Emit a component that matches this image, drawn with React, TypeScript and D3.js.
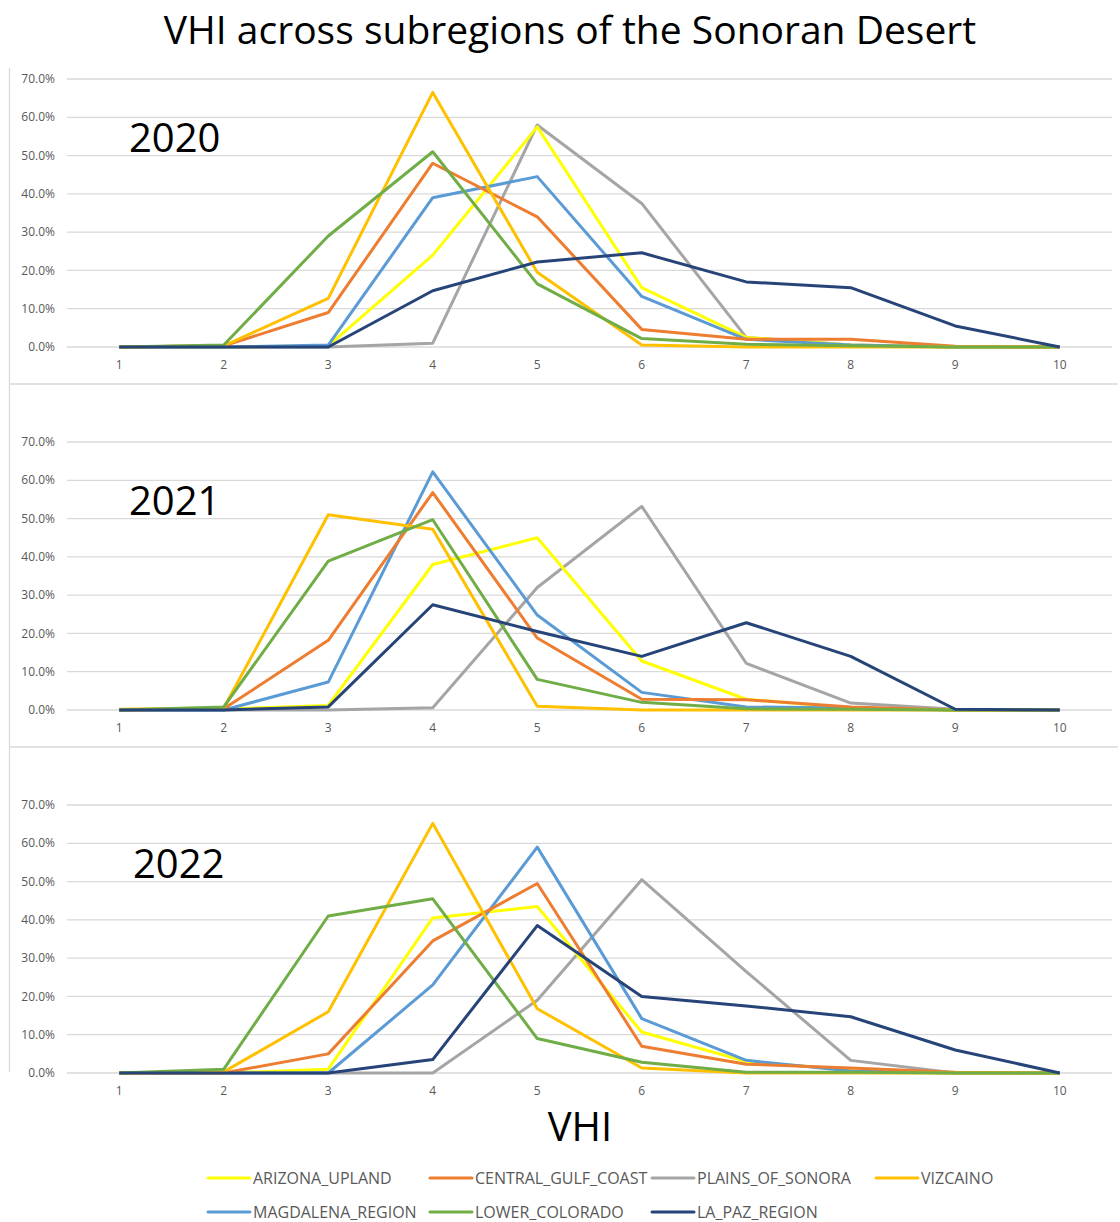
import React from "react";
import * as d3 from "d3";

const categories = [1, 2, 3, 4, 5, 6, 7, 8, 9, 10];
const yTicks = [0, 10, 20, 30, 40, 50, 60, 70];
const years = ["2020", "2021", "2022"];
const seriesNames = [
  "ARIZONA_UPLAND",
  "CENTRAL_GULF_COAST",
  "PLAINS_OF_SONORA",
  "VIZCAINO",
  "MAGDALENA_REGION",
  "LOWER_COLORADO",
  "LA_PAZ_REGION",
];
const seriesColors = ["#FFFF00", "#ED7D31", "#A5A5A5", "#FFC000", "#5B9BD5", "#70AD47", "#264478"];

// 2020 values (%)
const arizona2020 = [0, 0, 0.3, 24, 57.5, 15.5, 2.5, 0.5, 0, 0];
const gulf2020 = [0, 0.3, 9, 48, 34, 4.6, 2, 2, 0.2, 0];
const plains2020 = [0, 0, 0, 1, 58, 37.5, 2.5, 0.5, 0, 0];
const vizcaino2020 = [0, 0.3, 12.7, 66.5, 19.5, 0.5, 0, 0, 0, 0];
const magdalena2020 = [0, 0, 0.5, 39, 44.5, 13.2, 2, 0.5, 0, 0];
const colorado2020 = [0, 0.5, 29, 51, 16.5, 2.2, 0.7, 0.3, 0, 0];
const lapaz2020 = [0, 0, 0, 14.7, 22.2, 24.6, 17, 15.5, 5.5, 0];

// 2021 values (%)
const arizona2021 = [0, 0.2, 1.2, 38, 45, 12.8, 2.8, 0.5, 0, 0];
const gulf2021 = [0, 0.3, 18.2, 56.8, 18.8, 2.8, 2.7, 0.8, 0, 0];
const plains2021 = [0, 0, 0, 0.6, 32, 53.2, 12.2, 1.8, 0.2, 0];
const vizcaino2021 = [0.2, 0.5, 51, 47.2, 1, 0, 0, 0, 0, 0];
const magdalena2021 = [0, 0, 7.3, 62.2, 24.8, 4.6, 0.8, 0.5, 0, 0];
const colorado2021 = [0, 0.8, 38.9, 49.7, 8, 2, 0.3, 0.2, 0, 0];
const lapaz2021 = [0, 0, 0.8, 27.5, 20.5, 14, 22.8, 14, 0.2, 0];

// 2022 values (%)
const arizona2022 = [0, 0, 1, 40.5, 43.5, 10.7, 3, 0.8, 0, 0];
const gulf2022 = [0, 0, 5, 34.5, 49.5, 7, 2.3, 1.3, 0.2, 0];
const plains2022 = [0, 0, 0, 0, 19, 50.5, 26.5, 3.3, 0, 0];
const vizcaino2022 = [0, 0.3, 16, 65.2, 16.8, 1.3, 0, 0, 0, 0];
const magdalena2022 = [0, 0, 0, 23, 59, 14.2, 3.3, 0.5, 0, 0];
const colorado2022 = [0, 1, 41, 45.5, 9, 2.8, 0.2, 0.2, 0, 0];
const lapaz2022 = [0, 0, 0, 3.5, 38.5, 20, 17.5, 14.7, 6, 0];

const panelData = [
  [arizona2020, gulf2020, plains2020, vizcaino2020, magdalena2020, colorado2020, lapaz2020],
  [arizona2021, gulf2021, plains2021, vizcaino2021, magdalena2021, colorado2021, lapaz2021],
  [arizona2022, gulf2022, plains2022, vizcaino2022, magdalena2022, colorado2022, lapaz2022],
];

const W = 1120;
const H = 1222;
const FONT = "'Open Sans', 'Noto Sans', sans-serif";
const plotLeft = 67;
const plotRight = 1112;
const panelTops = [79, 442, 805]; // y of 70% gridline
const plotH = 268;
const yearX = [129, 129, 133];
const drawOrder = [2, 0, 4, 1, 3, 5, 6];

function Panel({ idx }: { idx: number }) {
  const top = panelTops[idx];
  const x = d3
    .scalePoint<number>()
    .domain(categories)
    .range([plotLeft, plotRight])
    .padding(0.5);
  const y = d3.scaleLinear().domain([0, 70]).range([top + plotH, top]);
  const line = d3
    .line<number>()
    .x((_, i) => x(categories[i]) as number)
    .y((d) => y(d));
  const data = panelData[idx];
  return (
    <g>
      {yTicks.map((t) => (
        <g key={t}>
          <line x1={plotLeft} x2={plotRight} y1={y(t)} y2={y(t)} stroke="#D9D9D9" strokeWidth={1.3} />
          <text
            x={55}
            y={y(t)}
            dy="0.35em"
            textAnchor="end"
            fontSize={12}
            fill="#595959"
            fontFamily={FONT}
          >
            {d3.format(".1f")(t) + "%"}
          </text>
        </g>
      ))}
      {categories.map((c) => (
        <text
          key={c}
          x={x(c)}
          y={top + plotH + 18}
          dy="0.35em"
          textAnchor="middle"
          fontSize={12}
          fill="#595959"
          fontFamily={FONT}
        >
          {c}
        </text>
      ))}
      {drawOrder.map((si) => (
        <path
          key={si}
          d={line(data[si]) || ""}
          fill="none"
          stroke={seriesColors[si]}
          strokeWidth={3}
          strokeLinejoin="round"
        />
      ))}
      <text x={yearX[idx]} y={top + 73} fontSize={40} fill="#000" fontFamily={FONT}>
        {years[idx]}
      </text>
    </g>
  );
}

export default function App() {
  const legendCols = [208, 430, 652, 876];
  const legendRows = [1178, 1212];
  return (
    <svg
      width={W}
      height={H}
      viewBox={`0 0 ${W} ${H}`}
      style={{ position: "absolute", left: 0, top: 0, background: "#fff" }}
    >
      <rect x={0} y={0} width={W} height={H} fill="#fff" />
      <text x={570} y={44} textAnchor="middle" fontSize={39} fill="#000" fontFamily={FONT}>
        VHI across subregions of the Sonoran Desert
      </text>
      <line x1={9.5} x2={9.5} y1={68} y2={1072} stroke="#D9D9D9" strokeWidth={1.3} />
      <line x1={9} x2={1118} y1={384} y2={384} stroke="#D9D9D9" strokeWidth={1.3} />
      <line x1={9} x2={1118} y1={747} y2={747} stroke="#D9D9D9" strokeWidth={1.3} />
      {years.map((_, i) => (
        <Panel key={i} idx={i} />
      ))}
      <text x={580} y={1141} textAnchor="middle" fontSize={40} fill="#000" fontFamily={FONT}>
        VHI
      </text>
      {seriesNames.map((name, i) => {
        const col = i < 4 ? i : i - 4;
        const row = i < 4 ? 0 : 1;
        const lx = legendCols[col];
        const ly = legendRows[row];
        return (
          <g key={name}>
            <line x1={lx} x2={lx + 42} y1={ly} y2={ly} stroke={seriesColors[i]} strokeWidth={3} strokeLinecap="round" />
            <text x={lx + 45} y={ly} dy="0.35em" fontSize={16} fill="#595959" fontFamily={FONT}>
              {name}
            </text>
          </g>
        );
      })}
    </svg>
  );
}
